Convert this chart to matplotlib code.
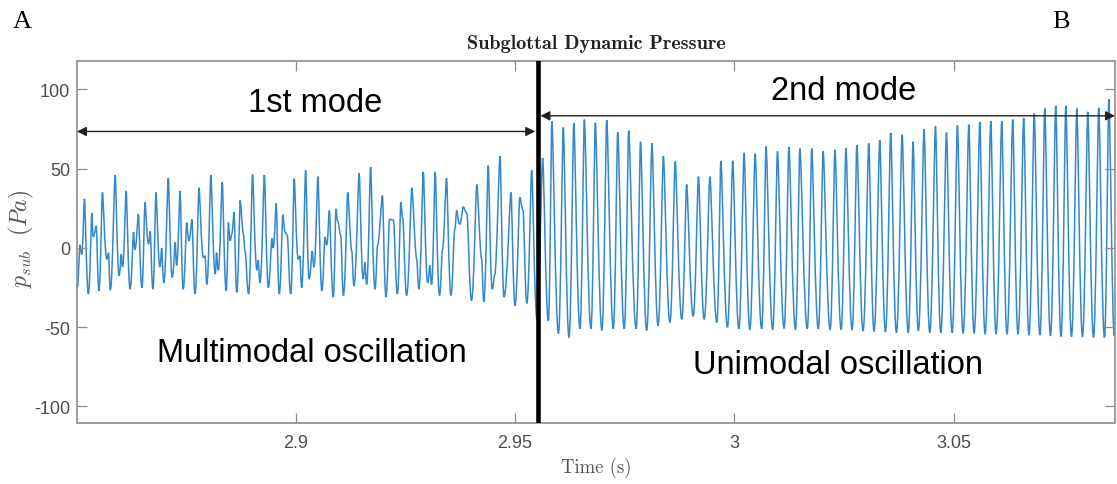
import numpy as np
import matplotlib
matplotlib.use("Agg")
import matplotlib.pyplot as plt
from matplotlib.path import Path
from matplotlib.patches import PathPatch

plt.rcParams['axes.unicode_minus'] = False
plt.rcParams['mathtext.fontset'] = 'cm'

# Values (time in s, pressure in Pa)

# 1st mode (multimodal): points along the trace, main peaks, troughs and the small bumps
mode1_t = [2.8503, 2.8509, 2.8513, 2.8519, 2.8528, 2.8536, 2.8539, 2.8546,
           2.8552, 2.8560, 2.8570, 2.8574, 2.8578, 2.8589, 2.8598, 2.8603,
           2.8606, 2.8614, 2.8623, 2.8631, 2.8634, 2.8642, 2.8650, 2.8657,
           2.8665, 2.8669, 2.8675, 2.8682, 2.8691, 2.8695, 2.8700, 2.8710,
           2.8719, 2.8726, 2.8729, 2.8737, 2.8744, 2.8752, 2.8757, 2.8764,
           2.8771, 2.8780, 2.8790, 2.8794, 2.8798, 2.8807, 2.8817, 2.8820,
           2.8824, 2.8833, 2.8842, 2.8847, 2.8851, 2.8855, 2.8860, 2.8866,
           2.8874, 2.8881, 2.8885, 2.8893, 2.8902, 2.8912, 2.8915, 2.8919,
           2.8929, 2.8938, 2.8946, 2.8949, 2.8956, 2.8963, 2.8971, 2.8976,
           2.8981, 2.8989, 2.8997, 2.9006, 2.9010, 2.9014, 2.9023, 2.9031,
           2.9038, 2.9042, 2.9051, 2.9060, 2.9067, 2.9071, 2.9077, 2.9086,
           2.9092, 2.9096, 2.9103, 2.9109, 2.9119, 2.9128, 2.9133, 2.9145,
           2.9154, 2.9158, 2.9162, 2.9171, 2.9181, 2.9187, 2.9198, 2.9206,
           2.9214, 2.9223, 2.9232, 2.9240, 2.9244, 2.9253, 2.9265, 2.9276,
           2.9281, 2.9291, 2.9301, 2.9306, 2.9310, 2.9318, 2.9328, 2.9335,
           2.9344, 2.9354, 2.9363, 2.9367, 2.9374, 2.9382, 2.9390, 2.9401,
           2.9413, 2.9424, 2.9429, 2.9439, 2.9448, 2.9454, 2.9466, 2.9475,
           2.9491, 2.9500, 2.9511, 2.9518, 2.9527, 2.9538, 2.9550]
mode1_p = [-25, 2, -4, 31, -29, 22, 7, 14,
           -27, 35, -7, -3, -26.6, 46, -17.5, -4,
           -12, 36, -26, 10, -1, 21.5, -25, 29,
           2.5, 10.5, -26, 35, -12, 0, -22, 44,
           -18.6, 3.6, -11, 36, -26, 16, 4.6, 18,
           -29, 38, -6, -5, -23, 46, -16.5, -3,
           -14, 41.5, -27, 16, 4.6, 9, 22.6, -28,
           30, 9, -2, -29, 46.4, -14, -7.6, -22,
           46, -25, 6, 0, 28, -29, 21, 10,
           8, -29, 43.7, -7, -5, -25, 49, -19.6,
           -2, -12, 45, -27, 7, 2, 23.6, -31,
           24.7, 17, 8, -30, 35, -2, -24, 47,
           -19.6, -9, -23, 51, -26, 1.5, 33, -31,
           18, 17.5, -29, 29, 19, -30, 38, -7,
           -26, 48, -22, -11, -23, 48, -30, -1,
           44, -30, 12, 23.6, 15, 26, 22, -33,
           40, -7, -34, 52, -26, -17, 58, -31,
           35, -36.5, 32, 24, -35, 49, -45]

# 2nd mode (unimodal): one peak and one trough per cycle
mode2_peak_t = [2.9563, 2.9584, 2.9610, 2.9634, 2.9658, 2.9683, 2.9709, 2.9734,
                2.9759, 2.9786, 2.9812, 2.9838, 2.9865, 2.9891, 2.9918, 2.9944,
                2.9969, 2.9996, 3.0022, 3.0047, 3.0072, 3.0098, 3.0124, 3.0149,
                3.0176, 3.0202, 3.0229, 3.0254, 3.0279, 3.0306, 3.0331, 3.0356,
                3.0382, 3.0407, 3.0432, 3.0458, 3.0483, 3.0508, 3.0534, 3.0559,
                3.0584, 3.0609, 3.0634, 3.0659, 3.0683, 3.0707, 3.0732, 3.0755,
                3.0780, 3.0805, 3.0830, 3.0853]
mode2_peak_p = [56.7, 80, 76, 78.9, 81, 79, 80.6, 73,
                74, 67, 66, 58, 54.6, 40, 45, 45,
                55, 55, 60, 59.5, 64, 61, 63.7, 62.7,
                62.7, 61, 62, 63, 65, 66, 68, 72.6,
                71.5, 67, 75, 76.8, 72.8, 77.4, 77.8, 79.5,
                80, 80, 81, 82, 84.8, 88, 89.7, 89.7,
                88, 85.9, 88.4, 93.9]
mode2_trough_t = [2.9576, 2.9599, 2.9623, 2.9648, 2.9673, 2.9698, 2.9724, 2.9749,
                  2.9776, 2.9800, 2.9826, 2.9853, 2.9880, 2.9906, 2.9931, 2.9960,
                  2.9984, 3.0010, 3.0035, 3.0062, 3.0087, 3.0113, 3.0139, 3.0166,
                  3.0191, 3.0218, 3.0243, 3.0268, 3.0293, 3.0318, 3.0344, 3.0369,
                  3.0396, 3.0419, 3.0445, 3.0470, 3.0496, 3.0521, 3.0546, 3.0571,
                  3.0596, 3.0621, 3.0646, 3.0671, 3.0696, 3.0720, 3.0744, 3.0768,
                  3.0793, 3.0818, 3.0843, 3.0865]
mode2_trough_p = [-46, -54, -56.5, -51, -51, -52, -51, -51,
                  -51, -52, -49, -47, -45, -43, -45, -47,
                  -50, -51, -51.5, -51, -51.5, -50.8, -51.5, -51,
                  -51, -51.5, -51.5, -51.7, -52.3, -52.7, -53, -53.4,
                  -53.4, -52.3, -53.4, -53.4, -53.4, -53.8, -53.8, -54.4,
                  -54.4, -54.4, -54.4, -54.9, -55, -55.5, -55.9, -55.9,
                  -56.1, -56.5, -56.5, -55.5]

switch_t = 2.9552          # black line between the two regimes
mode1_arrow_p = 73.5
mode2_arrow_p = 83.4

x_ticks = [2.9, 2.95, 3.0, 3.05]
x_tick_labels = ['2.9', '2.95', '3', '3.05']
y_ticks = [-100, -50, 0, 50, 100]
y_tick_labels = ['-100', '-50', '0', '50', '100']
x_range = (2.8502, 3.0867)
y_range = (-110.5, 118)

# build one trace
t2 = np.column_stack([mode2_peak_t, mode2_trough_t]).ravel()
p2 = np.column_stack([mode2_peak_p, mode2_trough_p]).ravel()
t = np.concatenate([mode1_t, t2])
p = np.concatenate([mode1_p, p2])


def smooth_trace(t, p):
    # cubic bezier segments through the read points, flat at each point,
    # sharper at peaks and rounder at troughs
    k = np.full(len(t), 0.33)
    for i in range(1, len(t) - 1):
        if p[i] > p[i - 1] and p[i] > p[i + 1]:
            k[i] = 0.22
        elif p[i] < p[i - 1] and p[i] < p[i + 1]:
            k[i] = 0.45
    verts = [(t[0], p[0])]
    codes = [Path.MOVETO]
    for i in range(len(t) - 1):
        dt = t[i + 1] - t[i]
        verts += [(t[i] + k[i] * dt, p[i]), (t[i + 1] - k[i + 1] * dt, p[i + 1]),
                  (t[i + 1], p[i + 1])]
        codes += [Path.CURVE4] * 3
    return Path(verts, codes)


fig = plt.figure(figsize=(11.17, 4.85), dpi=100)
ax = fig.add_axes([0.0689, 0.1258, 0.9293, 0.7464])

ax.add_patch(PathPatch(smooth_trace(t, p), fill=False, edgecolor='#3389cc', lw=1.1))
ax.axvline(switch_t, color='black', lw=3.3, zorder=5)

ax.set_xlim(*x_range)
ax.set_ylim(*y_range)
ax.set_xticks(x_ticks, x_tick_labels)
ax.set_yticks(y_ticks, y_tick_labels)

for s in ax.spines.values():
    s.set_color('#8c8c8c')
    s.set_linewidth(1.2)
ax.tick_params(direction='in', length=7, width=0.9, top=True, right=True,
               colors='#8c8c8c', labelcolor='#4d4d4d', labelsize=13)
ax.tick_params(axis='x', pad=8)
ax.tick_params(axis='y', pad=5)
for lab in ax.get_xticklabels() + ax.get_yticklabels():
    lab.set_family('Liberation Sans')

ax.set_title('Subglottal Dynamic Pressure', fontfamily='cmb10', fontsize=14.5,
             pad=9, color='#222222')
ax.set_xlabel('Time (s)', fontfamily='cmr10', fontsize=13.5, color='#555555',
              labelpad=4)
ax.text(-0.053, 0.51, r'$p_{sub}\ \ (Pa)$', rotation=90, transform=ax.transAxes,
        ha='center', va='center', fontsize=17, color='#555555')

# mode arrows
arrow_kw = dict(arrowstyle='<|-|>', color='#222222', lw=1.0, mutation_scale=14,
                shrinkA=0, shrinkB=0)
ax.annotate('', xy=(x_range[0], mode1_arrow_p), xytext=(switch_t - 0.0006, mode1_arrow_p),
            arrowprops=arrow_kw, annotation_clip=False)
ax.annotate('', xy=(switch_t + 0.0006, mode2_arrow_p), xytext=(x_range[1], mode2_arrow_p),
            arrowprops=arrow_kw, annotation_clip=False)

txt_kw = dict(ha='center', va='center', fontsize=23.5, family='Liberation Sans',
              color='black')
ax.text(2.9044, 91.6, '1st mode', **txt_kw)
ax.text(3.0249, 99.2, '2nd mode', **txt_kw)
ax.text(2.9038, -65.7, 'Multimodal oscillation', **txt_kw)
ax.text(3.0236, -73.3, 'Unimodal oscillation', **txt_kw)

fig.text(13 / 1117, 1 - 22.5 / 485, 'A', family='Liberation Serif', fontsize=19,
         ha='left', va='center')
fig.text(1052 / 1117, 1 - 22.5 / 485, 'B', family='Liberation Serif', fontsize=19,
         ha='left', va='center')

fig.savefig('out.png', dpi=100)
